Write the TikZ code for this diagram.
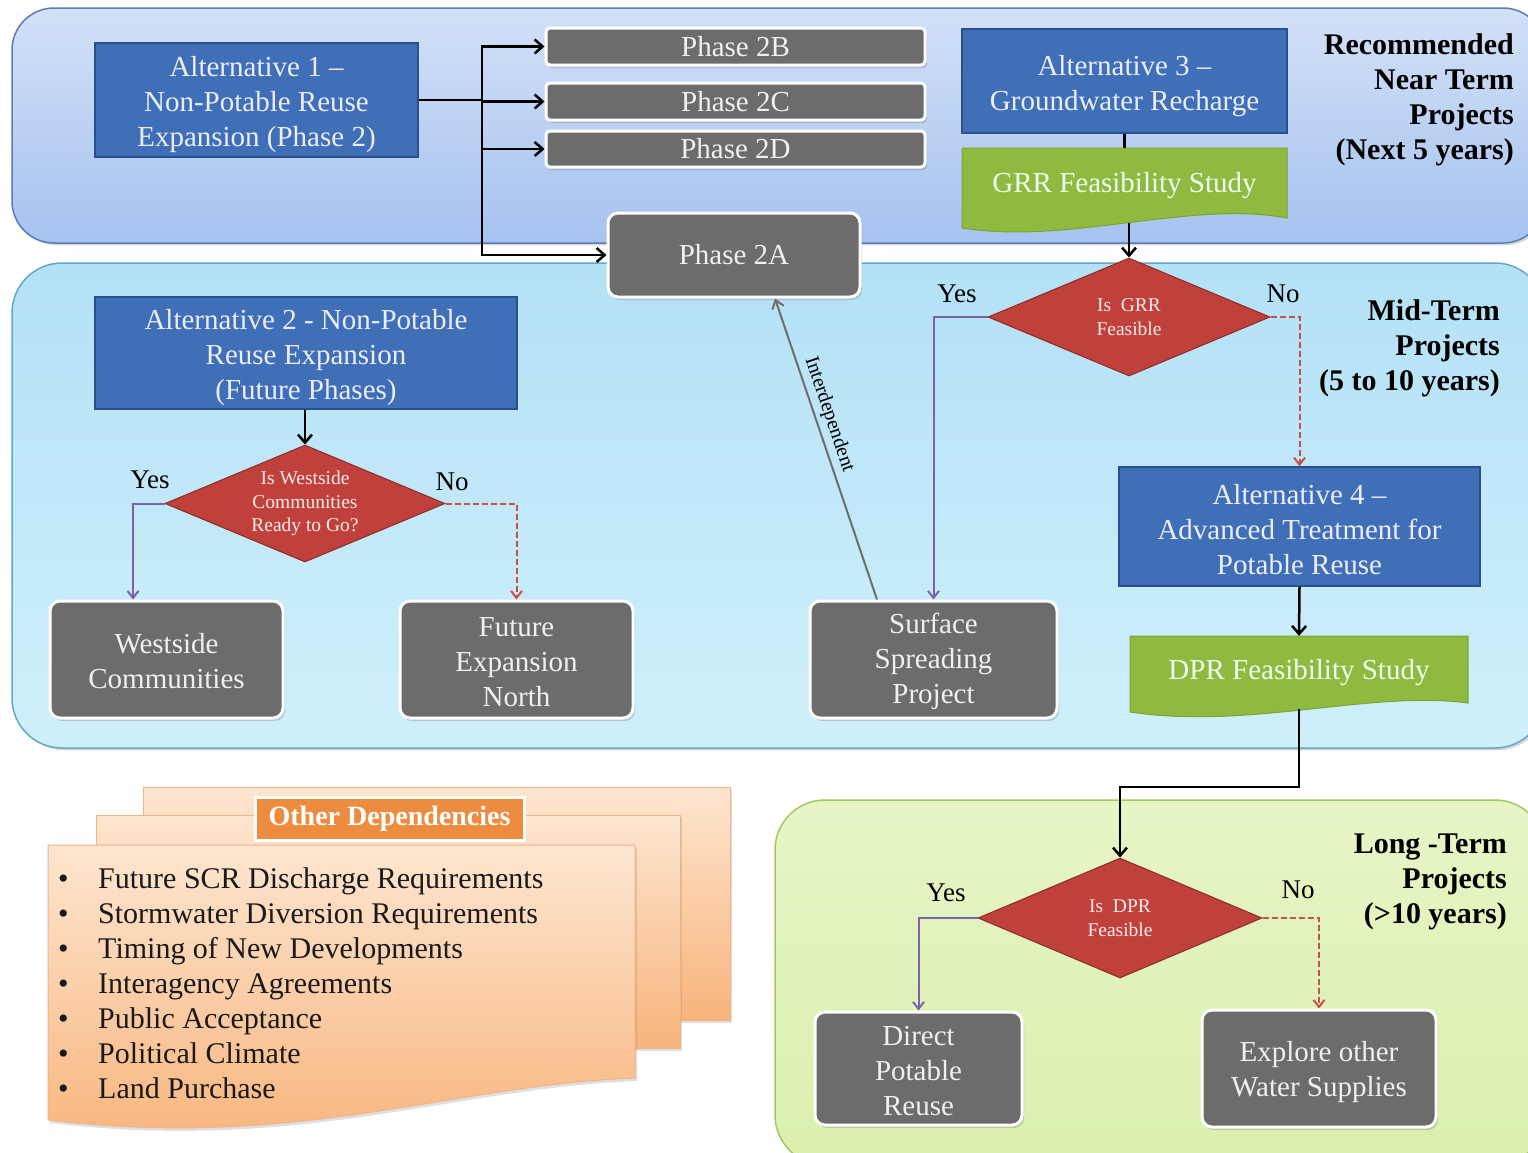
\documentclass[tikz,border=0pt]{standalone}
\usepackage{fontspec}
\setmainfont{Liberation Serif}
\usetikzlibrary{shapes.geometric,arrows.meta,shadows,calc}
\definecolor{bluebox}{HTML}{3F6FB6}
\definecolor{blueedge}{HTML}{2B4F8A}
\definecolor{greenbox}{HTML}{8DBA3F}
\definecolor{greenedge}{HTML}{7AA532}
\definecolor{grayb}{HTML}{6C6C6C}
\definecolor{redd}{HTML}{C0413C}
\definecolor{rededge}{HTML}{8E2A26}
\definecolor{yesc}{HTML}{7B62AA}
\definecolor{noc}{HTML}{C9504A}
\definecolor{neartop}{HTML}{D3E1F7}
\definecolor{nearbot}{HTML}{A6C2EF}
\definecolor{nearedge}{HTML}{5A7DB3}
\definecolor{midtop}{HTML}{B4E1F6}
\definecolor{midbot}{HTML}{CFF0FB}
\definecolor{midedge}{HTML}{62A8CB}
\definecolor{longtop}{HTML}{E6F5C6}
\definecolor{longbot}{HTML}{DAF0AE}
\definecolor{longedge}{HTML}{A3C866}
\definecolor{pagetop}{HTML}{FDE6D0}
\definecolor{pagebot}{HTML}{F8B47C}
\definecolor{pageedge}{HTML}{F0B486}
\definecolor{orangebox}{HTML}{ED8B3F}
\definecolor{intergray}{HTML}{6E6E6E}
\newcommand{\tstrA}{\rule{0pt}{30pt}}
\newcommand{\tstrB}{\rule{0pt}{27pt}}
\newcommand{\tstrC}{\rule{0pt}{24pt}}
\begin{document}
\begin{tikzpicture}[x=1pt,y=-1pt,
  bluenode/.style={rectangle, fill=bluebox, draw=blueedge, line width=1.5pt, text=white!93!blue, align=center, font=\fontsize{29}{35}\selectfont, inner sep=0pt},
  graynode/.style={rectangle, rounded corners=10pt, fill=grayb, draw=white, line width=3pt, text=white!94!black, align=center, font=\fontsize{29}{35}\selectfont, drop shadow={opacity=0.35, shadow xshift=2pt, shadow yshift=-3pt}, inner sep=0pt},
  phasenode/.style={graynode, rounded corners=4pt},
  decision/.style={diamond, aspect=2.4, fill=redd, draw=rededge, line width=1pt, text=red!8!white, align=center, font=\fontsize{19.5}{23.5}\selectfont, inner sep=0pt},
  greentext/.style={rectangle, align=center, text=white!94!green, font=\fontsize{29}{35}\selectfont, inner sep=0pt},
  yn/.style={font=\fontsize{27}{30}\selectfont, text=black, inner sep=0pt},
  sidelabel/.style={font=\bfseries\fontsize{30}{35}\selectfont, align=right, anchor=north east, inner sep=0pt},
  flow/.style={line width=2.5pt, -{Straight Barb[length=8pt,width=14pt]}},
  plainflow/.style={line width=2.5pt},
  yesline/.style={draw=yesc, line width=2pt, -{Straight Barb[length=7pt,width=11pt]}},
  noline/.style={draw=noc, line width=2pt, dash pattern=on 6pt off 3pt, -{Straight Barb[length=7pt,width=11pt]}},
  interline/.style={draw=intergray, line width=2pt, -{Straight Barb[length=8pt,width=12pt]}},
  deptext/.style={font=\fontsize{30}{35}\selectfont, text=black!90, anchor=base west, inner sep=0pt},
  pagebox/.style={draw=pageedge, line width=1pt, top color=pagetop, bottom color=pagebot, drop shadow={opacity=0.25, shadow xshift=2pt, shadow yshift=-3pt}}
]
\useasboundingbox (0,0) rectangle (1528,1152);
\fill[white] (0,0) rectangle (1528,1152);

% bands
\path[draw=nearedge, line width=1.5pt, rounded corners=42pt, top color=neartop, bottom color=nearbot, drop shadow={opacity=0.3}] (12,8) rectangle (1545,243);
\path[draw=midedge, line width=1.5pt, rounded corners=50pt, top color=midtop, bottom color=midbot, drop shadow={opacity=0.3}] (12,263) rectangle (1545,748);
\path[draw=longedge, line width=1.5pt, rounded corners=50pt, top color=longtop, bottom color=longbot, drop shadow={opacity=0.3}] (775,800) rectangle (1545,1165);

% side labels
\node[sidelabel] (nearlbl) at (1514,33) {Recommended\\Near Term\\Projects\\(Next 5 years)};
\node[sidelabel] (midlbl) at (1500,299) {Mid-Term\\Projects\\(5 to 10 years)};
\node[sidelabel] (longlbl) at (1507,834) {Long -Term\\Projects\\(>10 years)};

% near term
\node[bluenode, minimum width=323pt, minimum height=114pt] (alt1) at (256.5,100) {\tstrA Alternative 1 --\\Non-Potable Reuse\\Expansion (Phase 2)};
\node[phasenode, minimum width=379pt, minimum height=37pt] (p2b) at (735.5,46.5) {Phase 2B};
\node[phasenode, minimum width=379pt, minimum height=37pt] (p2c) at (735.5,101.5) {Phase 2C};
\node[phasenode, minimum width=379pt, minimum height=36pt] (p2d) at (735.5,149) {Phase 2D};
\node[graynode, minimum width=252pt, minimum height=84pt] (p2a) at (734,255) {Phase 2A};
\node[bluenode, minimum width=325pt, minimum height=104pt] (alt3) at (1124.5,81) {\tstrA Alternative 3 --\\Groundwater Recharge};
\path[fill=greenbox, draw=greenedge, line width=1pt] (962,148) -- (1287,148) -- (1287,218) .. controls (1190,200) and (1070,245) .. (962,228) -- cycle;
\node[greentext, minimum width=325pt, minimum height=75pt] (grr) at (1124.5,185.5) {GRR Feasibility Study};

\coordinate (trunk) at (482,100);
\draw[plainflow] (alt1.east) -- (trunk);
\draw[flow] (trunk) |- (p2b.west);
\draw[flow] (trunk) |- (p2c.west);
\draw[flow] (trunk) |- (p2d.west);
\draw[flow] (trunk) |- (p2a.west);
\draw[plainflow] (alt3.south) -- (grr.north);

% mid term
\node[decision, minimum width=282pt, minimum height=118pt] (dgrr) at (1129,317) {Is\ \ GRR\\Feasible};
\draw[flow] (dgrr.north |- grr.south) -- (dgrr.north);
\node[yn] (yes1) at (957,294) {Yes};
\node[yn] (no1) at (1283,294) {No};

\node[bluenode, minimum width=422pt, minimum height=112pt] (alt2) at (306,353) {\tstrA Alternative 2 - Non-Potable\\Reuse Expansion\\(Future Phases)};
\node[decision, minimum width=280pt, minimum height=117pt] (dws) at (305,503.5) {Is Westside\\Communities\\Ready to Go?};
\node[yn] (yes2) at (150,480) {Yes};
\node[yn] (no2) at (452,482) {No};
\node[graynode, minimum width=233pt, minimum height=117pt] (wsc) at (166.5,659.5) {\tstrC Westside\\Communities};
\node[graynode, minimum width=233pt, minimum height=117pt] (fen) at (516.5,659.5) {\tstrC Future\\Expansion\\North};
\node[graynode, minimum width=247pt, minimum height=117pt] (ssp) at (933.5,659.5) {\tstrC Surface\\Spreading\\Project};
\node[bluenode, minimum width=361pt, minimum height=119pt] (alt4) at (1299.5,526.5) {\tstrB Alternative 4 --\\Advanced Treatment for\\Potable Reuse};
\path[fill=greenbox, draw=greenedge, line width=1pt] (1130,636) -- (1468,636) -- (1468,703) .. controls (1370,690) and (1250,730) .. (1130,712) -- cycle;
\node[greentext, minimum width=338pt, minimum height=73pt] (dpr) at (1299,672.5) {DPR Feasibility Study};

\draw[flow] (alt2.south -| dws.north) -- (dws.north);
\draw[yesline] (dws.west) -| ([xshift=-33.5pt]wsc.north);
\draw[noline] (dws.east) -| (fen.north);
\draw[yesline] (dgrr.west) -| (ssp.north);
\draw[noline] (dgrr.east) -| (alt4.north);
\draw[flow] (alt4.south) -- (dpr.north);
\draw[interline] ([xshift=-56.5pt]ssp.north) -- node[sloped, above=4pt, pos=0.6, font=\fontsize{20}{22}\selectfont, text=black, inner sep=0pt] (interlbl) {Interdependent} ([xshift=41pt]p2a.south);

% long term
\node[decision, minimum width=284pt, minimum height=120pt] (ddpr) at (1120,918) {Is\ \ DPR\\Feasible};
\node[yn] (yes3) at (946,893) {Yes};
\node[yn] (no3) at (1298,890) {No};
\node[graynode, minimum width=207pt, minimum height=113pt] (dpru) at (918.5,1068.5) {\tstrC Direct\\Potable\\Reuse};
\node[graynode, minimum width=234pt, minimum height=117pt] (eows) at (1319,1068.5) {\tstrB Explore other\\Water Supplies};
\draw[flow] (dpr.south) -- ++(0,78) -| (ddpr.north);
\draw[yesline] (ddpr.west) -| (dpru.north);
\draw[noline] (ddpr.east) -| (eows.north);

% other dependencies
\path[pagebox] (143,787) rectangle (730,1020);
\path[pagebox] (96,815) rectangle (680,1048);
\path[pagebox] (48,845) -- (635,845) -- (635,1078) .. controls (450,1085) and (300,1150) .. (48,1120) -- cycle;
\node[rectangle, fill=orangebox, draw=white, line width=3pt, minimum width=269pt, minimum height=43pt, inner sep=0pt, text=white, font=\bfseries\fontsize{28}{30}\selectfont, drop shadow={opacity=0.25, shadow xshift=2pt, shadow yshift=-2pt}] (deptitle) at (389.5,818.5) {Other Dependencies};
\foreach \txt [count=\i from 0] in {Future SCR Discharge Requirements, Stormwater Diversion Requirements, Timing of New Developments, Interagency Agreements, Public Acceptance, Political Climate, Land Purchase}{
  \node[deptext] (dep\i) at (58,{888+35*\i}) {\makebox[40pt][l]{•}\txt};
}
\end{tikzpicture}
\end{document}
